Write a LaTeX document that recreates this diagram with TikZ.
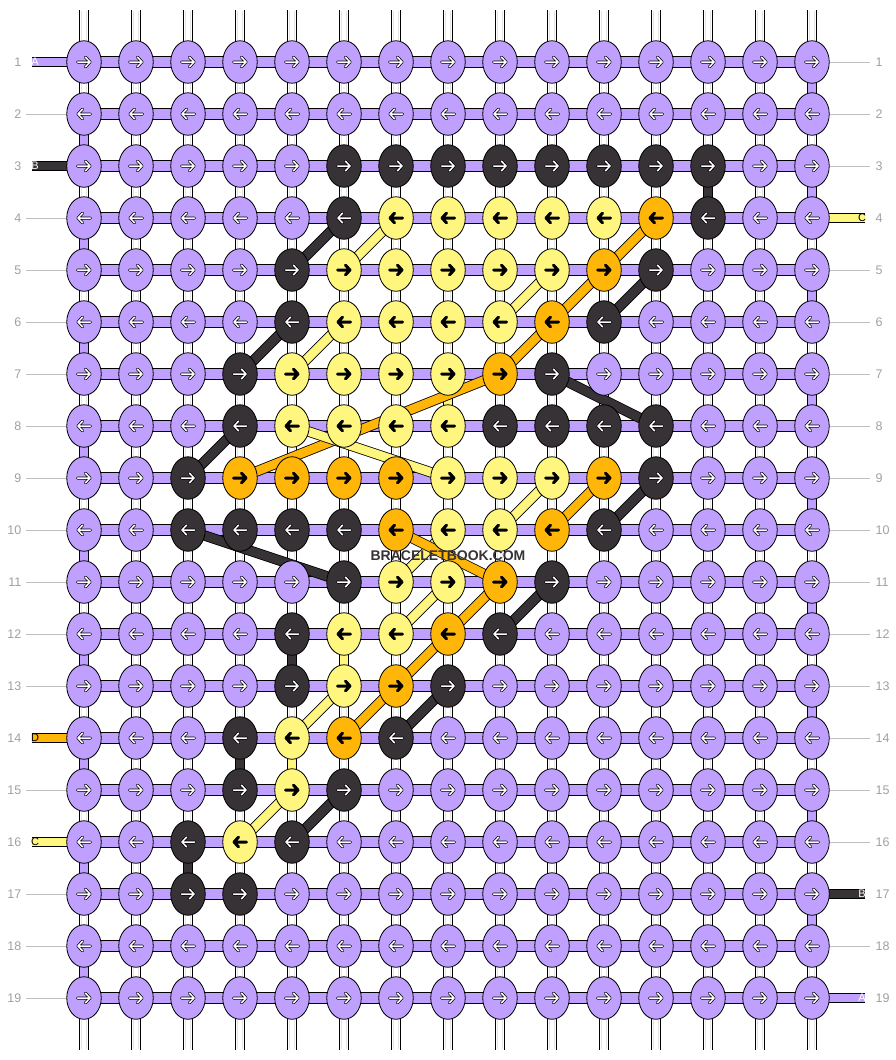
\documentclass[tikz,border=0pt]{standalone}
\usepackage{fontspec}
\setmainfont{Liberation Sans}
\usetikzlibrary{shapes.geometric}
\definecolor{cP}{RGB}{192,160,255}
\definecolor{cB}{RGB}{54,50,54}
\definecolor{cY}{RGB}{255,246,128}
\definecolor{cO}{RGB}{255,182,8}
\definecolor{numgray}{RGB}{160,160,160}
\colorlet{kaP}{white}
\colorlet{kaB}{white}
\colorlet{kaY}{black}
\colorlet{kaO}{black}
\pgfdeclarelayer{back}
\pgfsetlayers{back,main}

\begin{document}
\begin{tikzpicture}[line cap=round,line join=round,x=1pt,y=-1pt,
  knot/.style={ellipse,draw=black,line width=0.8pt,minimum width=34.5pt,minimum height=42.5pt,inner sep=0pt,fill=c#1},
  hbar/.style={draw=black,line width=0.8pt,double=cP,double distance=9.6pt},
  band/.style={draw=black,line width=0.8pt,double=#1,double distance=8.8pt},
  warp/.style={draw=black,line width=0.8pt,double=white,double distance=8.8pt},
  warpline/.style={draw=black!10,line width=0.5pt,shorten <=1pt,shorten >=1pt},
  tick/.style={draw=black!25,line width=0.8pt,line cap=butt},
  rownum/.style={text=numgray,font=\fontsize{12.5}{14}\selectfont,inner sep=0pt},
  strlabel/.style={font=\fontsize{11}{12}\selectfont,inner sep=0pt},
  wmark/.style={text=cB,font=\bfseries\fontsize{14}{16}\selectfont,inner sep=0pt},
  pics/karrow/.style={code={
    \draw[line width=3pt,black] (-6.5,0) -- (6,0) (1.5,-4.8) -- (6,0) -- (1.5,4.8);
    \draw[line width=1.5pt,ka#1] (-6.5,0) -- (6,0) (1.5,-4.8) -- (6,0) -- (1.5,4.8);
  }}]
\useasboundingbox (0,0) rectangle (896,1060);

\foreach \r/\row in {
  1/{P,P,P,P,P,P,P,P,P,P,P,P,P,P,P},
  2/{P,P,P,P,P,P,P,P,P,P,P,P,P,P,P},
  3/{P,P,P,P,P,B,B,B,B,B,B,B,B,P,P},
  4/{P,P,P,P,P,B,Y,Y,Y,Y,Y,O,B,P,P},
  5/{P,P,P,P,B,Y,Y,Y,Y,Y,O,B,P,P,P},
  6/{P,P,P,P,B,Y,Y,Y,Y,O,B,P,P,P,P},
  7/{P,P,P,B,Y,Y,Y,Y,O,B,P,P,P,P,P},
  8/{P,P,P,B,Y,Y,Y,Y,B,B,B,B,P,P,P},
  9/{P,P,B,O,O,O,O,Y,Y,Y,O,B,P,P,P},
  10/{P,P,B,B,B,B,O,Y,Y,O,B,P,P,P,P},
  11/{P,P,P,P,P,B,Y,Y,O,B,P,P,P,P,P},
  12/{P,P,P,P,B,Y,Y,O,B,P,P,P,P,P,P},
  13/{P,P,P,P,B,Y,O,B,P,P,P,P,P,P,P},
  14/{P,P,P,B,Y,O,B,P,P,P,P,P,P,P,P},
  15/{P,P,P,B,Y,B,P,P,P,P,P,P,P,P,P},
  16/{P,P,B,Y,B,P,P,P,P,P,P,P,P,P,P},
  17/{P,P,B,B,P,P,P,P,P,P,P,P,P,P,P},
  18/{P,P,P,P,P,P,P,P,P,P,P,P,P,P,P},
  19/{P,P,P,P,P,P,P,P,P,P,P,P,P,P,P}}{
  \pgfmathtruncatemacro\dir{1-2*mod(\r+1,2)}
  \foreach \c [count=\i] in \row {
    \node[knot=\c] (k\r-\i) at ({84+52*(\i-1)},{62+52*(\r-1)}) {};
    \pic[xscale=\dir] at (k\r-\i) {karrow=\c};
  }
}

\foreach \i in {1,...,15} {
  \coordinate (wt\i) at ({84+52*(\i-1)},10);
  \coordinate (wb\i) at ({84+52*(\i-1)},1050);
}
\coordinate (sl1) at (32,62);
\coordinate (sl3) at (32,166);
\coordinate (sl14) at (32,738);
\coordinate (sl16) at (32,842);
\coordinate (sr4) at (865,218);
\coordinate (sr17) at (865,894);
\coordinate (sr19) at (865,998);

\begin{pgfonlayer}{back}
\foreach \i in {1,...,15} {
  \draw[warp] (wt\i) -- (wb\i);
  \draw[warpline] ([xshift=-2.4pt]wt\i) -- ([xshift=-2.4pt]wb\i);
  \draw[warpline] ([xshift=2.4pt]wt\i) -- ([xshift=2.4pt]wb\i);
}
\foreach \r in {1,...,19}
  \draw[hbar] (k\r-1.center) -- (k\r-15.center);
\foreach \r in {1,3,...,17} {
  \pgfmathtruncatemacro\s{\r+1}
  \draw[band=cP] (k\r-15.center) -- (k\s-15.center);
}
\foreach \r in {2,4,...,18} {
  \pgfmathtruncatemacro\s{\r+1}
  \draw[band=cP] (k\r-1.center) -- (k\s-1.center);
}
\draw[band=cP] (sl1) -- (k1-1.center);
\draw[band=cB] (sl3) -- (k3-1.center);
\draw[band=cO] (sl14) -- (k14-1.center);
\draw[band=cY] (sl16) -- (k16-1.center);
\draw[band=cY] (k4-15.center) -- (sr4);
\draw[band=cB] (k17-15.center) -- (sr17);
\draw[band=cP] (k19-15.center) -- (sr19);
\draw[band=cB] (k3-13.center) -- (k4-13.center);
\draw[band=cB] (k12-5.center) -- (k13-5.center);
\draw[band=cB] (k14-4.center) -- (k15-4.center);
\draw[band=cB] (k16-3.center) -- (k17-3.center);
\draw[band=cY] (k7-8.center) -- (k8-8.center);
\draw[band=cY] (k12-6.center) -- (k13-6.center);
\draw[band=cY] (k14-5.center) -- (k15-5.center);
\draw[band=cB] (k4-6.center) -- (k5-5.center);
\draw[band=cB] (k6-5.center) -- (k7-4.center);
\draw[band=cB] (k8-4.center) -- (k9-3.center);
\draw[band=cB] (k10-3.center) -- (k11-6.center);
\draw[band=cB] (k5-12.center) -- (k6-11.center);
\draw[band=cB] (k7-10.center) -- (k8-12.center);
\draw[band=cB] (k9-12.center) -- (k10-11.center);
\draw[band=cB] (k11-10.center) -- (k12-9.center);
\draw[band=cB] (k13-8.center) -- (k14-7.center);
\draw[band=cB] (k15-6.center) -- (k16-5.center);
\draw[band=cY] (k4-7.center) -- (k5-6.center);
\draw[band=cY] (k6-6.center) -- (k7-5.center);
\draw[band=cY] (k5-10.center) -- (k6-9.center);
\draw[band=cY] (k9-10.center) -- (k10-9.center);
\draw[band=cY] (k10-8.center) -- (k11-7.center);
\draw[band=cY] (k11-8.center) -- (k12-7.center);
\draw[band=cY] (k13-6.center) -- (k14-5.center);
\draw[band=cY] (k15-5.center) -- (k16-4.center);
\draw[band=cO] (k4-12.center) -- (k5-11.center);
\draw[band=cO] (k5-11.center) -- (k6-10.center);
\draw[band=cO] (k6-10.center) -- (k7-9.center);
\draw[band=cO] (k7-9.center) -- (k9-4.center);
\draw[band=cY] (k8-5.center) -- (k9-8.center);
\draw[band=cO] (k9-11.center) -- (k10-10.center);
\draw[band=cO] (k10-7.center) -- (k11-9.center);
\draw[band=cO] (k11-9.center) -- (k12-8.center);
\draw[band=cO] (k12-8.center) -- (k13-7.center);
\draw[band=cO] (k13-7.center) -- (k14-6.center);
\end{pgfonlayer}

\node[strlabel,text=white] (lA1) at (35,62) {A};
\node[strlabel,text=white] (lB1) at (35,166) {B};
\node[strlabel,text=black] (lD1) at (35,738) {D};
\node[strlabel,text=black] (lC1) at (35,842) {C};
\node[strlabel,text=black] (lC2) at (862,218) {C};
\node[strlabel,text=white] (lB2) at (862,894) {B};
\node[strlabel,text=white] (lA2) at (862,998) {A};

\foreach \r in {1,...,19} {
  \node[rownum,anchor=east] (nl\r) at (21.5,{62+52*(\r-1)}) {\r};
  \node[rownum,anchor=west] (nr\r) at (875.5,{62+52*(\r-1)}) {\r};
}
\foreach \r in {2,4,5,6,7,8,9,10,11,12,13,15,17,18,19} {
  \coordinate (tl\r) at (26,{62+52*(\r-1)});
  \draw[tick] (tl\r) -- (k\r-1);
}
\foreach \r in {1,2,3,5,6,7,8,9,10,11,12,13,14,15,16,18} {
  \coordinate (tr\r) at (870,{62+52*(\r-1)});
  \draw[tick] (k\r-15) -- (tr\r);
}

\node[wmark] (wm) at (448,556) {BRACELETBOOK.COM};
\end{tikzpicture}
\end{document}
